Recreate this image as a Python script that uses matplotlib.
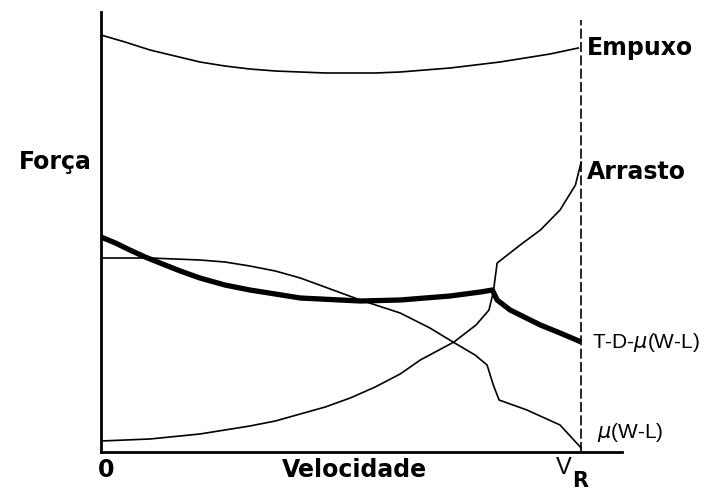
import matplotlib
matplotlib.use("Agg")
import matplotlib.pyplot as plt
import numpy as np

# Velocity as fraction of V_R (0..1), force in arbitrary units
emp_x = [0.0, 0.05, 0.102, 0.154, 0.206, 0.258, 0.310, 0.363, 0.415, 0.467, 0.519, 0.571, 0.623, 0.675, 0.727, 0.779, 0.831, 0.883, 0.935, 0.994]
emp_y = [417, 410, 402, 396, 390, 386, 383, 381, 380, 379, 379, 379, 380, 382, 384, 387, 390, 394, 398, 404]

arr_x = [0.0, 0.102, 0.206, 0.310, 0.363, 0.415, 0.467, 0.519, 0.571, 0.623, 0.665, 0.735, 0.781, 0.808, 0.817, 0.825, 0.873, 0.915, 0.956, 0.988, 1.0]
arr_y = [11, 13, 18, 26, 31, 38, 45, 54, 65, 78, 92, 110, 127, 142, 160, 189, 207, 222, 242, 267, 290]

net_x = [0.0, 0.030, 0.060, 0.092, 0.123, 0.165, 0.206, 0.258, 0.310, 0.363, 0.415, 0.540, 0.623, 0.727, 0.790, 0.815, 0.825, 0.852, 0.915, 0.956, 1.0]
net_y = [215, 209, 202, 195, 189, 181, 174, 167, 162, 158, 154, 151, 152, 156, 160, 162, 152, 142, 127, 119, 110]

mu_x = [0.0, 0.102, 0.206, 0.258, 0.310, 0.363, 0.415, 0.540, 0.623, 0.685, 0.733, 0.779, 0.804, 0.817, 0.829, 0.887, 0.956, 1.0]
mu_y = [194, 194, 192, 190, 186, 181, 174, 152, 139, 124, 110, 97, 87, 67, 52, 42, 27, 4]

VR = 1.0

fig = plt.figure(figsize=(7.07, 4.92), dpi=100)
ax = fig.add_axes([101/707, 40/492, 521/707, 440/492])
ax.set_xlim(0, 1.085)
ax.set_ylim(0, 440)

ax.plot(emp_x, emp_y, color="black", lw=1.2)
ax.plot(arr_x, arr_y, color="black", lw=1.2)
ax.plot(mu_x, mu_y, color="black", lw=1.2)
ax.plot(net_x, net_y, color="black", lw=3.8, solid_capstyle="butt", solid_joinstyle="round")
ax.plot([VR, VR], [0, 432], color="black", lw=1.2, ls=(0, (6, 2)))

for s in ["top", "right"]:
    ax.spines[s].set_visible(False)
for s in ["left", "bottom"]:
    ax.spines[s].set_linewidth(2.0)
ax.set_xticks([])
ax.set_yticks([])

bold = dict(fontweight="bold", family=["DejaVu Sans"], color="black")
narrow = dict(family=["Liberation Sans Narrow", "Liberation Sans", "DejaVu Sans"], color="black")

fig.text(55/707, 1 - 162/492, "Força", ha="center", va="center", fontsize=17, **bold)
fig.text(587/707, 1 - 48/492, "Empuxo", ha="left", va="center", fontsize=17, **bold)
fig.text(587/707, 1 - 172/492, "Arrasto", ha="left", va="center", fontsize=17, **bold)
fig.text(592/707, 1 - 343/492, "T-D-$\\mu$(W-L)", ha="left", va="center", fontsize=15, **narrow)
fig.text(597/707, 1 - 433/492, "$\\mu$(W-L)", ha="left", va="center", fontsize=15, **narrow)
fig.text(106/707, 1 - 470/492, "0", ha="center", va="center", fontsize=17, **bold)
fig.text(354/707, 1 - 470/492, "Velocidade", ha="center", va="center", fontsize=17, **bold)
fig.text(564/707, 1 - 468/492, "V", ha="center", va="center", fontsize=17, **narrow)
fig.text(580/707, 1 - 481/492, "R", ha="center", va="center", fontsize=15, **bold)

fig.savefig("out.png", dpi=100)
